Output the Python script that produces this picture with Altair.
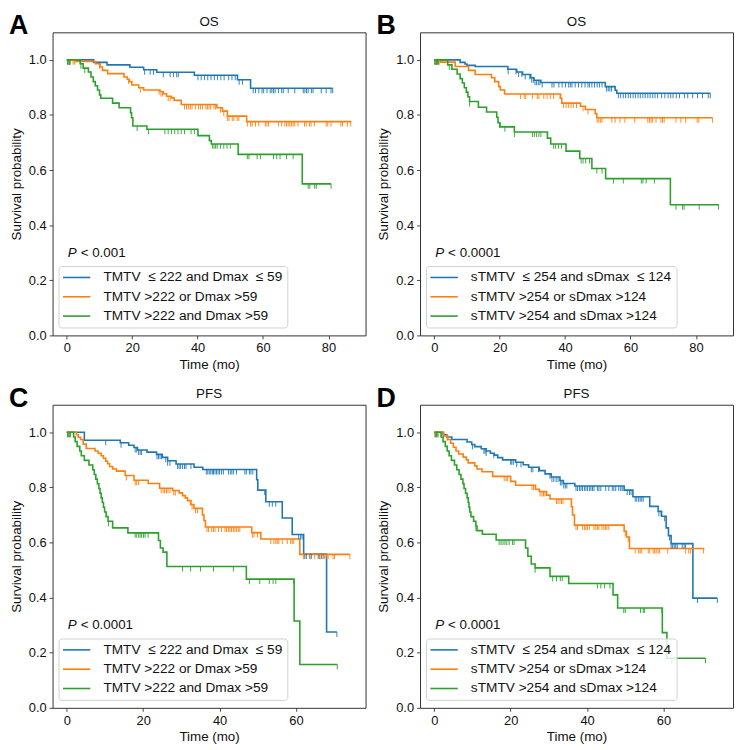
import bisect
import altair as alt
import pandas as pd

FONT = "Liberation Sans"
COLORS = ["#1f77b4", "#ff7f0e", "#2ca02c"]

LABELS_AC = ["TMTV\u00a0 \u2264 222 and Dmax\u00a0 \u2264 59", "TMTV >222 or Dmax >59", "TMTV >222 and Dmax >59"]
LABELS_BD = ["sTMTV\u00a0 \u2264 254 and sDmax\u00a0 \u2264 124", "sTMTV >254 or sDmax >124", "sTMTV >254 and sDmax >124"]

Y_TICKS = [0.0, 0.2, 0.4, 0.6, 0.8, 1.0]
X_TICKS_OS = [0, 20, 40, 60, 80]
X_TICKS_PFS = [0, 20, 40, 60]

# ---------------- Panel A (OS, TMTV / Dmax) ----------------
A_blue_t = [0, 8.2, 12.3, 19.3, 23.5, 27.5, 39.0, 52.2, 56.2]
A_blue_s = [1.0, 0.991, 0.982, 0.973, 0.964, 0.955, 0.944, 0.928, 0.897]
A_blue_end = 81.3
A_blue_c = [0.3, 0.8, 23.8, 25.5, 26.5, 29.5, 31.6, 32.6, 33.6, 34.1, 40.1, 41.1, 42.1, 43.1, 44.1, 45.1,
            46.1, 47.1, 48.1, 49.5, 50.5, 51.5, 52.7, 53.7, 57.0, 57.7, 58.7, 59.7, 60.2, 61.2, 62.2, 62.7,
            63.2, 63.7, 64.7, 65.7, 66.2, 67.7, 69.7, 72.3, 72.8, 73.3, 73.8, 74.8, 75.3, 77.8, 79.3, 80.8, 81.3]

A_orange_t = [0, 2.6, 8.8, 10.2, 10.9, 12.5, 17.5, 18.5, 19.1, 19.9, 22.0, 23.5, 28.5, 29.5, 30.5, 32.0,
              32.8, 35.0, 45.9, 47.6, 49.1, 55.0]
A_orange_s = [1.0, 0.994, 0.986, 0.974, 0.962, 0.950, 0.938, 0.930, 0.921, 0.909, 0.899, 0.891, 0.885,
              0.877, 0.868, 0.862, 0.853, 0.838, 0.826, 0.814, 0.796, 0.776]
A_orange_end = 87.0
A_orange_c = [1.0, 1.9, 2.4, 10.0, 18.9, 22.5, 28.2, 28.8, 29.3, 31.0, 31.6, 36.0, 36.6, 37.2, 37.8, 38.3,
              39.3, 40.3, 40.9, 41.5, 42.5, 43.0, 43.5, 44.0, 45.0, 45.5, 47.0, 48.0, 49.1, 49.6, 50.6, 51.1,
              52.1, 52.6, 55.2, 56.2, 56.7, 57.7, 58.7, 60.7, 61.2, 61.7, 64.7, 65.7, 66.7, 67.2, 67.7, 68.2,
              68.7, 69.2, 69.7, 70.7, 72.7, 73.2, 74.2, 74.7, 75.7, 79.3, 79.8, 80.8, 83.8, 84.3, 85.8, 86.8]

A_green_t = [0, 4.1, 5.0, 6.6, 7.4, 8.1, 8.7, 9.4, 10.0, 10.4, 14.0, 16.0, 19.5, 19.8, 20.2, 24.5, 40.1,
             43.6, 44.2, 52.4, 72.0]
A_green_s = [1.0, 0.986, 0.970, 0.956, 0.938, 0.921, 0.906, 0.891, 0.873, 0.861, 0.843, 0.826, 0.808,
             0.790, 0.760, 0.748, 0.725, 0.707, 0.695, 0.657, 0.550]
A_green_end = 80.8
A_green_c = [0.2, 0.6, 1.0, 4.3, 5.5, 21.5, 25.0, 30.0, 31.0, 32.0, 33.0, 34.0, 35.0, 36.0, 38.0, 39.0,
             44.5, 45.0, 45.5, 46.0, 47.0, 48.0, 49.0, 50.0, 55.2, 55.7, 58.2, 59.2, 63.2, 64.2, 65.2, 67.2,
             69.2, 73.8, 74.3, 75.8, 76.3, 80.8]

# ---------------- Panel B (OS, sTMTV / sDmax) ----------------
B_blue_t = [0, 7.9, 9.4, 10.0, 12.5, 22.5, 25.2, 27.0, 29.5, 30.5, 32.6, 52.3, 55.3, 55.8]
B_blue_s = [1.0, 0.991, 0.985, 0.980, 0.976, 0.966, 0.956, 0.947, 0.935, 0.926, 0.918, 0.903, 0.890, 0.879]
B_blue_end = 84.4
B_blue_c = [0.2, 0.7, 22.6, 25.0, 25.8, 26.8, 27.8, 29.2, 29.8, 30.3, 30.8, 31.3, 31.8, 32.3, 33.0, 36.0,
            36.6, 38.1, 39.1, 40.1, 41.1, 41.6, 42.1, 43.1, 44.1, 45.1, 46.1, 47.0, 47.5, 48.2, 49.0, 49.8,
            50.5, 51.3, 52.7, 53.2, 53.7, 54.2, 56.3, 57.0, 57.8, 58.5, 59.3, 60.0, 60.8, 61.5, 62.3, 63.0,
            63.8, 64.5, 65.3, 66.0, 66.8, 67.5, 68.3, 69.5, 70.5, 71.5, 72.3, 73.0, 74.0, 75.0, 76.5, 77.5,
            79.0, 80.5, 82.0, 83.8, 84.4]

B_orange_t = [0, 1.9, 6.4, 10.5, 12.5, 17.5, 18.5, 19.7, 20.2, 21.5, 38.6, 39.0, 44.7, 46.2, 49.2, 49.7]
B_orange_s = [1.0, 0.992, 0.976, 0.962, 0.947, 0.935, 0.921, 0.903, 0.891, 0.876, 0.861, 0.843, 0.832,
              0.820, 0.805, 0.790]
B_orange_end = 85.1
B_orange_c = [0.3, 0.8, 1.5, 26.4, 27.5, 28.0, 30.0, 31.5, 32.0, 33.5, 34.5, 35.5, 36.5, 38.5, 39.5, 40.3,
              41.0, 41.8, 42.5, 43.5, 45.5, 47.0, 49.8, 50.3, 50.8, 51.3, 54.3, 55.3, 56.8, 58.3, 61.3, 65.3,
              65.8, 66.3, 66.8, 67.8, 69.3, 69.8, 70.3, 73.9, 75.4, 76.9, 80.4, 80.9, 85.1]

B_green_t = [0, 4.1, 5.4, 7.0, 7.9, 8.6, 9.2, 9.8, 10.3, 10.8, 13.5, 16.0, 19.1, 19.5, 20.1, 24.5, 34.6,
             35.6, 40.3, 44.5, 48.2, 52.4, 72.2]
B_green_s = [1.0, 0.982, 0.966, 0.949, 0.932, 0.916, 0.899, 0.883, 0.866, 0.849, 0.828, 0.811, 0.792,
             0.772, 0.757, 0.738, 0.716, 0.695, 0.669, 0.642, 0.606, 0.569, 0.474]
B_green_end = 87.0
B_green_c = [0.2, 0.6, 1.0, 1.3, 4.6, 10.8, 20.0, 21.6, 24.5, 30.0, 30.6, 31.3, 32.0, 32.6, 36.5, 37.1,
             38.0, 38.9, 44.9, 45.5, 46.3, 47.5, 49.7, 51.3, 54.8, 57.8, 63.3, 63.8, 64.8, 67.3, 73.9, 75.9,
             76.4, 81.0, 86.9]

# ---------------- Panel C (PFS, TMTV / Dmax) ----------------
C_blue_t = [0, 4.6, 14.0, 16.2, 17.6, 18.5, 21.0, 23.5, 25.0, 26.4, 28.6, 33.3, 35.6, 49.7, 50.0, 52.1,
            56.4, 59.0, 62.0, 68.0]
C_blue_s = [1.0, 0.971, 0.962, 0.953, 0.945, 0.936, 0.928, 0.920, 0.909, 0.897, 0.885, 0.873, 0.865,
            0.828, 0.790, 0.748, 0.689, 0.629, 0.558, 0.275]
C_blue_end = 70.7
C_blue_c = [0.3, 0.8, 10.2, 14.2, 17.9, 18.3, 18.8, 19.2, 19.6, 23.6, 24.0, 24.4, 24.8, 25.9, 26.4, 27.0,
            29.0, 29.4, 29.8, 30.3, 30.8, 31.2, 32.5, 36.5, 36.9, 37.3, 37.7, 38.1, 38.4, 38.8, 39.2, 39.6,
            40.0, 40.5, 41.0, 42.3, 42.8, 43.2, 43.6, 44.4, 46.6, 47.0, 47.8, 48.2, 48.7, 51.8, 53.0, 53.8,
            54.7, 60.7, 61.2, 61.6, 62.3, 62.7, 63.6, 64.0, 65.8, 66.2, 66.7, 67.1, 70.7]

C_orange_t = [0, 2.5, 3.0, 3.6, 4.3, 5.1, 7.4, 8.2, 9.0, 9.6, 10.2, 10.7, 11.2, 12.0, 13.0, 15.3, 17.6,
              21.3, 24.3, 27.7, 29.4, 30.3, 31.0, 31.6, 32.5, 33.3, 35.5, 35.9, 36.3, 48.4, 50.8, 61.0]
C_orange_s = [1.0, 0.991, 0.982, 0.974, 0.957, 0.941, 0.932, 0.924, 0.915, 0.906, 0.895, 0.886, 0.876,
              0.867, 0.859, 0.843, 0.826, 0.814, 0.797, 0.789, 0.780, 0.770, 0.762, 0.752, 0.738, 0.724,
              0.700, 0.680, 0.656, 0.636, 0.613, 0.557]
C_orange_end = 74.1
C_orange_c = [0.5, 15.6, 17.9, 18.3, 18.8, 24.7, 25.2, 25.6, 26.1, 26.5, 27.0, 28.0, 28.4, 32.4, 32.8,
              33.7, 34.2, 36.7, 37.1, 37.9, 38.4, 38.8, 39.7, 40.5, 41.4, 41.8, 42.3, 42.7, 43.1, 43.6,
              44.0, 44.4, 44.9, 45.3, 48.6, 49.0, 49.9, 53.4, 54.2, 54.7, 55.1, 55.5, 56.4, 57.7, 58.6,
              59.0, 59.4, 62.0, 63.6, 64.9, 66.2, 66.6, 67.5, 67.9, 68.4, 69.7, 70.1, 74.1]

C_green_t = [0, 1.8, 2.2, 2.7, 3.4, 3.8, 4.6, 5.8, 6.8, 7.2, 7.6, 8.0, 8.4, 8.7, 9.0, 9.3, 9.6, 9.9, 10.3,
             10.8, 12.0, 16.0, 24.0, 24.5, 25.2, 26.2, 47.0, 59.5, 61.0]
C_green_s = [1.0, 0.983, 0.966, 0.949, 0.932, 0.915, 0.898, 0.881, 0.864, 0.847, 0.830, 0.813, 0.796,
             0.779, 0.762, 0.745, 0.728, 0.711, 0.694, 0.677, 0.653, 0.635, 0.607, 0.580, 0.565, 0.513,
             0.467, 0.315, 0.157]
C_green_end = 70.8
C_green_c = [0.2, 0.6, 1.0, 10.9, 17.9, 18.3, 18.8, 19.2, 19.6, 20.1, 20.5, 21.3, 30.3, 32.4, 35.0, 38.4,
             43.6, 47.8, 50.5, 53.0, 54.0, 54.7, 59.4, 70.8]

# ---------------- Panel D (PFS, sTMTV / sDmax) ----------------
D_blue_t = [0, 2.3, 3.3, 4.6, 8.6, 9.8, 10.6, 12.3, 13.6, 14.7, 15.7, 16.6, 17.9, 21.3, 23.3, 24.7, 27.5,
            29.0, 30.6, 32.9, 33.8, 36.8, 49.7, 52.0, 56.4, 58.6, 59.5, 60.7, 61.3, 62.0, 67.7]
D_blue_s = [1.0, 0.991, 0.983, 0.974, 0.965, 0.956, 0.948, 0.940, 0.932, 0.924, 0.917, 0.908, 0.900,
            0.891, 0.882, 0.873, 0.861, 0.849, 0.838, 0.825, 0.814, 0.805, 0.790, 0.766, 0.731, 0.713,
            0.695, 0.653, 0.625, 0.596, 0.398]
D_blue_end = 74.1
D_blue_c = [0.3, 0.7, 10.0, 13.0, 13.3, 13.6, 15.6, 20.0, 20.3, 20.7, 21.6, 22.7, 25.4, 25.8, 27.3, 30.3,
            30.8, 31.3, 31.9, 32.4, 33.0, 33.4, 33.9, 34.3, 34.7, 37.1, 37.5, 38.0, 38.4, 38.8, 39.3, 39.7,
            40.1, 40.6, 41.0, 41.4, 41.8, 42.7, 43.1, 43.6, 44.9, 45.7, 46.6, 47.0, 47.5, 48.3, 48.8, 49.2,
            50.5, 51.1, 51.5, 52.6, 53.0, 53.5, 53.9, 54.3, 54.7, 58.8, 59.4, 60.3, 61.6, 62.0, 62.4, 62.8,
            63.2, 63.6, 64.9, 65.4, 65.8, 68.9, 74.1]

D_orange_t = [0, 2.5, 3.5, 4.3, 5.0, 5.7, 6.4, 7.6, 8.4, 8.9, 10.6, 11.2, 12.5, 15.3, 20.0, 21.3, 26.5,
              27.5, 29.4, 30.3, 35.9, 36.2, 36.7, 49.7, 50.3, 51.1]
D_orange_s = [1.0, 0.987, 0.974, 0.960, 0.946, 0.932, 0.921, 0.910, 0.900, 0.889, 0.878, 0.867, 0.857,
              0.840, 0.822, 0.808, 0.793, 0.785, 0.772, 0.758, 0.730, 0.700, 0.663, 0.641, 0.620, 0.578]
D_orange_end = 70.7
D_orange_c = [0.3, 0.7, 3.4, 18.3, 18.8, 19.2, 25.6, 26.0, 27.7, 28.2, 28.6, 29.0, 32.0, 32.4, 32.9, 33.3,
              33.7, 37.1, 37.5, 38.8, 39.3, 39.7, 40.1, 40.6, 41.8, 42.3, 42.7, 43.1, 43.9, 44.4, 44.8,
              45.2, 45.7, 50.0, 50.8, 52.6, 53.5, 53.9, 54.3, 56.0, 56.4, 57.3, 57.7, 58.1, 58.6, 59.0,
              61.1, 65.8, 66.6, 67.1, 70.5]

D_green_t = [0, 1.8, 2.3, 2.9, 3.4, 3.9, 4.5, 5.3, 5.9, 6.5, 7.0, 7.5, 7.8, 8.2, 8.6, 8.9, 9.1, 9.3, 9.6,
             10.3, 10.9, 11.2, 12.6, 16.2, 23.9, 24.5, 25.4, 26.4, 30.3, 35.2, 46.8, 48.0, 59.7, 60.9]
D_green_s = [1.0, 0.983, 0.966, 0.949, 0.932, 0.915, 0.898, 0.881, 0.864, 0.847, 0.830, 0.813, 0.796,
             0.779, 0.762, 0.745, 0.728, 0.711, 0.694, 0.677, 0.660, 0.643, 0.630, 0.609, 0.580, 0.550,
             0.522, 0.508, 0.477, 0.451, 0.410, 0.362, 0.273, 0.180]
D_green_end = 71.0
D_green_c = [0.2, 0.6, 1.0, 10.9, 17.0, 17.5, 18.0, 18.5, 19.0, 19.6, 20.5, 20.9, 26.4, 31.0, 32.0, 33.0,
             33.5, 42.7, 43.6, 44.6, 46.0, 49.6, 50.0, 54.0, 54.7, 55.0, 59.6, 62.2, 71.0]

W, H = 316, 306


def panel(curves, labels, xdomain, xticks, letter, title, pvalue):
    line_rows, cens_rows = [], []
    for lab, (ts, ss, tend, cens) in zip(labels, curves):
        for t, s in zip(ts, ss):
            line_rows.append({"t": t, "s": s, "grp": lab})
        line_rows.append({"t": tend, "s": ss[-1], "grp": lab})
        for c in cens:
            i = bisect.bisect_right(ts, c) - 1
            cens_rows.append({"t": c, "s": ss[i], "grp": lab})

    cscale = alt.Scale(domain=labels, range=COLORS)
    x = alt.X("t:Q", scale=alt.Scale(domain=xdomain, nice=False, zero=False),
              axis=alt.Axis(values=xticks, format="d", title="Time (mo)"))
    y = alt.Y("s:Q", scale=alt.Scale(domain=[0, 1.1], nice=False, zero=False),
              axis=alt.Axis(values=Y_TICKS, format=".1f", title="Survival probability"))

    lines = alt.Chart(pd.DataFrame(line_rows)).mark_line(
        interpolate="step-after", strokeWidth=1.6, clip=True
    ).encode(
        x=x, y=y,
        color=alt.Color("grp:N", scale=cscale, sort=labels,
                        legend=alt.Legend(title=None, orient="none", legendX=6, legendY=H - 70)),
    )
    ticks = alt.Chart(pd.DataFrame(cens_rows)).mark_tick(
        orient="vertical", size=5, thickness=1, yOffset=2.5, opacity=0.9
    ).encode(x=x, y=y, color=alt.Color("grp:N", scale=cscale, legend=None))

    ptxt_p = alt.Chart(pd.DataFrame({"txt": ["P"]})).mark_text(
        align="left", baseline="middle", fontSize=13.5, fontStyle="italic", font=FONT, dx=1, color="#111"
    ).encode(text="txt:N", x=alt.datum(0), y=alt.datum(0.3))
    ptxt_v = alt.Chart(pd.DataFrame({"txt": [pvalue]})).mark_text(
        align="left", baseline="middle", fontSize=13.5, font=FONT, dx=14, color="#111"
    ).encode(text="txt:N", x=alt.datum(0), y=alt.datum(0.3))

    let = alt.Chart(pd.DataFrame({"txt": [letter]})).mark_text(
        align="left", baseline="top", fontSize=27, fontWeight="bold", font=FONT, color="#000"
    ).encode(text="txt:N", x=alt.value(-44), y=alt.value(-19))

    ttl = alt.Chart(pd.DataFrame({"txt": [title]})).mark_text(
        align="center", baseline="top", fontSize=13.5, font=FONT, color="#111"
    ).encode(text="txt:N", x=alt.value(W / 2), y=alt.value(-17.5))

    return alt.layer(lines, ticks, ptxt_p, ptxt_v, let, ttl).properties(width=W, height=H)


os_dom = [-4.35, 91.35]
pfs_dom = [-3.72, 78.2]

pA = panel([(A_blue_t, A_blue_s, A_blue_end, A_blue_c),
            (A_orange_t, A_orange_s, A_orange_end, A_orange_c),
            (A_green_t, A_green_s, A_green_end, A_green_c)],
           LABELS_AC, os_dom, X_TICKS_OS, "A", "OS", "< 0.001")
pB = panel([(B_blue_t, B_blue_s, B_blue_end, B_blue_c),
            (B_orange_t, B_orange_s, B_orange_end, B_orange_c),
            (B_green_t, B_green_s, B_green_end, B_green_c)],
           LABELS_BD, os_dom, X_TICKS_OS, "B", "OS", "< 0.0001")
pC = panel([(C_blue_t, C_blue_s, C_blue_end, C_blue_c),
            (C_orange_t, C_orange_s, C_orange_end, C_orange_c),
            (C_green_t, C_green_s, C_green_end, C_green_c)],
           LABELS_AC, pfs_dom, X_TICKS_PFS, "C", "PFS", "< 0.0001")
pD = panel([(D_blue_t, D_blue_s, D_blue_end, D_blue_c),
            (D_orange_t, D_orange_s, D_orange_end, D_orange_c),
            (D_green_t, D_green_s, D_green_end, D_green_c)],
           LABELS_BD, pfs_dom, X_TICKS_PFS, "D", "PFS", "< 0.0001")

row1 = alt.hconcat(pA, pB, spacing=9).resolve_scale(color="independent")
row2 = alt.hconcat(pC, pD, spacing=9).resolve_scale(color="independent")

chart = alt.vconcat(row1, row2, spacing=12).resolve_scale(color="independent").properties(
    padding={"left": 0, "top": 0, "right": 0, "bottom": 0}, background="white"
).configure_view(
    stroke="#333", strokeWidth=1
).configure_axis(
    domain=False, grid=False, tickColor="#333", tickSize=3.5, tickWidth=0.9,
    labelFontSize=13, titleFontSize=13.5, labelFont=FONT, titleFont=FONT,
    labelColor="#111", titleColor="#111", titleFontWeight="normal", labelPadding=3,
).configure_axisY(titlePadding=5).configure_axisX(titlePadding=3).configure_legend(
    symbolType="M-2.3,0H2.3", symbolSize=144, symbolStrokeWidth=1.6, symbolOffset=6.8,
    labelOffset=20, labelFontSize=13.8, labelFont=FONT, labelColor="#111", labelLimit=400,
    rowPadding=5.5, padding=4.5, fillColor="rgba(255,255,255,0.8)", strokeColor="#d0d0d0",
    cornerRadius=3,
)

chart.save("out.html", embed_options={"renderer": "svg", "actions": False})
